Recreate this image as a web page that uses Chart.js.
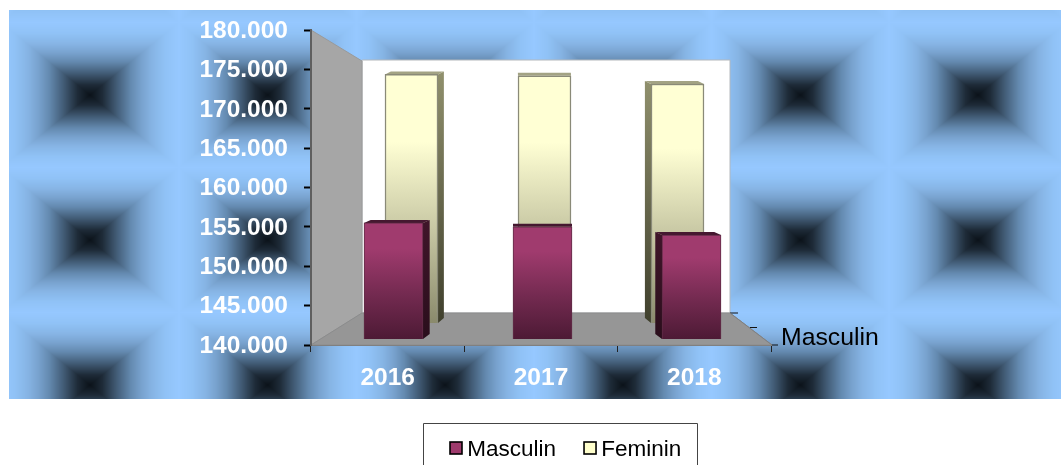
<!DOCTYPE html>
<html><head><meta charset="utf-8">
<style>html,body{margin:0;padding:0;background:#fff;overflow:hidden}canvas{display:block;filter:blur(.45px)}</style>
<script src="https://cdn.jsdelivr.net/npm/chart.js@4/dist/chart.umd.js"></script>
</head><body><canvas id="c" width="1061" height="465"></canvas>
<script>
const categories = ['2016', '2017', '2018'];
const masculin = [155300, 154800, 153700];
const feminin = [176500, 176300, 175100];
const seriesNames = ['Masculin', 'Feminin'];
const depthLabel = 'Masculin';
const yMin = 140000, yMax = 180000, yStep = 5000;

const FONT = '"Liberation Sans", Arial, sans-serif';
const bgRect = {l: 9, t: 10, r: 1061, b: 399};
const tile = {cx: 90, cy: 95, w: 177.6, h: 145};
const tileStops = [[0, [11, 18, 25]], [.14, [30, 43, 56]], [.3, [66, 92, 118]], [.46, [100, 138, 176]], [.58, [120, 162, 206]], [.7, [134, 180, 228]], [.85, [144, 194, 246]], [1, [150, 200, 255]]];
const swatchColors = ['#9E3A6C', '#FFFFCC'];

function tileColor(t) {
  for (let i = 1; i < tileStops.length; i++) if (t <= tileStops[i][0]) {
    const a = tileStops[i - 1], b = tileStops[i], f = (t - a[0]) / (b[0] - a[0]);
    return a[1].map((v, k) => v + (b[1][k] - v) * f);
  }
  return tileStops[tileStops.length - 1][1];
}
function makeBackground() {
  const W = 1061, H = 465, cv = document.createElement('canvas'); cv.width = W; cv.height = H;
  const x = cv.getContext('2d'), im = x.createImageData(W, H);
  for (let py = bgRect.t; py < bgRect.b; py++) for (let px = bgRect.l; px < bgRect.r; px++) {
    const u = (px + .5 - tile.cx) / tile.w, v = (py + .5 - tile.cy) / tile.h;
    const du = Math.abs(u - Math.round(u)) * 2, dv = Math.abs(v - Math.round(v)) * 2;
    const col = tileColor(Math.max(du, dv)), o = (py * W + px) * 4;
    im.data[o] = col[0]; im.data[o + 1] = col[1]; im.data[o + 2] = col[2]; im.data[o + 3] = 255;
  }
  x.putImageData(im, 0, 0);
  return cv;
}
const background = makeBackground();

function poly(ctx, pts, fill, stroke) {
  ctx.beginPath(); pts.forEach((p, i) => i ? ctx.lineTo(p[0], p[1]) : ctx.moveTo(p[0], p[1])); ctx.closePath();
  if (fill) { ctx.fillStyle = fill; ctx.fill(); }
  if (stroke) { ctx.strokeStyle = stroke; ctx.lineWidth = 1; ctx.stroke(); }
}
function place(s, l, r, t, b) { s.left = l; s.right = r; s.top = t; s.bottom = b; s.width = r - l; s.height = b - t; s.configure(); }

const scene = {
  id: 'scene',
  afterLayout(chart) {
    const s = chart.scales;
    place(s.x, 311, 771, 345, 400);
    place(s.y, 190, 311, 30, 345);
    place(s.xM, 319, 766, 0, 0);
    place(s.yM, 0, 0, 35.6, 339);
    place(s.xF, 345, 744, 0, 0);
    place(s.yF, 0, 0, 50.6, 323);
    const lg = chart.legend;
    lg.left = 422; lg.right = 800; lg.top = 412; lg.bottom = 465; lg.width = 378; lg.height = 53;
    lg.adjustHitBoxes();
  },
  beforeDraw(chart) {
    const c = chart.ctx;
    c.drawImage(background, 0, 0);
    poly(c, [[362, 60], [730, 60], [730, 313], [362, 313]], '#ffffff', '#b4b8bc');
    poly(c, [[311, 30], [362, 61], [362, 313], [311, 345]], '#A6A6A6', '#9a9a9a');
    poly(c, [[311, 345], [362, 313], [730, 313], [772, 345]], '#969696', '#8c8c8c');
    c.strokeStyle = '#111'; c.lineWidth = 1;
    [[730, 313, 738], [750, 327.5, 757], [771, 345, 778]].forEach(t => { c.beginPath(); c.moveTo(t[0], t[1]); c.lineTo(t[2], t[1]); c.stroke(); });
    c.beginPath(); c.moveTo(730, 313); c.lineTo(772, 345); c.strokeStyle = '#808080'; c.stroke();
    c.fillStyle = '#000'; c.font = '24.8px ' + FONT; c.textAlign = 'left'; c.textBaseline = 'middle';
    c.fillText(depthLabel, 781, 338);
  },
  beforeDatasetDraw(chart, args) {
    const c = chart.ctx, fem = args.index === 1;
    const sideTop = fem ? '#8f8f6c' : '#3f1529', sideBot = fem ? '#3f3f2c' : '#2a0e1c', topCol = fem ? '#a3a384' : '#451830';
    args.meta.data.forEach(b => {
      const dx = (542 - b.x) * 0.045, dy = 3;
      const l = b.x - b.width / 2, r = b.x + b.width / 2, t = b.y, base = b.base;
      const g = c.createLinearGradient(0, t, 0, base); g.addColorStop(0, sideTop); g.addColorStop(1, sideBot);
      if (dx > 0.5) poly(c, [[r, t], [r + dx, t - dy], [r + dx, base - dy - 2], [r, base]], g);
      if (dx < -0.5) poly(c, [[l, t], [l + dx, t - dy], [l + dx, base - dy - 2], [l, base]], g);
      poly(c, [[l, t], [r, t], [r + dx, t - dy], [l + dx, t - dy]], topCol);
    });
  },
  afterDraw(chart) {
    const c = chart.ctx;
    c.strokeStyle = '#444'; c.lineWidth = 1;
    c.beginPath(); c.moveTo(423.5, 470); c.lineTo(423.5, 423.5); c.lineTo(697.5, 423.5); c.lineTo(697.5, 470); c.stroke();
    chart.legend.legendHitBoxes.forEach((h, i) => {
      c.fillStyle = swatchColors[i]; c.fillRect(h.left + 1, 442, 12, 12);
      c.strokeStyle = '#000'; c.lineWidth = 1.6; c.strokeRect(h.left + 1, 442, 12, 12);
    });
  }
};

function barFill(top, mid, bot, midPos) {
  return ctx => {
    const el = ctx.chart.scales[ctx.dataset.yAxisID];
    const yT = el.getPixelForValue(ctx.raw), yB = el.bottom;
    const g = ctx.chart.ctx.createLinearGradient(0, yT, 0, yB);
    g.addColorStop(0, top); g.addColorStop(midPos[0], top); g.addColorStop(midPos[1], mid); g.addColorStop(1, bot);
    return g;
  };
}

new Chart(document.getElementById('c'), {
  type: 'bar',
  data: {
    labels: categories,
    datasets: [
      {label: seriesNames[0], data: masculin, xAxisID: 'xM', yAxisID: 'yM', barThickness: 59, clip: false, grouped: false, base: yMin,
       backgroundColor: barFill('#A03B6E', '#732A50', '#4D1A35', [.22, .62]), borderColor: '#5f2c46', borderWidth: 1},
      {label: seriesNames[1], data: feminin, xAxisID: 'xF', yAxisID: 'yF', barThickness: 53, clip: false, grouped: false, base: yMin,
       backgroundColor: barFill('#FFFFD4', '#C8C8A4', '#8A8A6C', [.27, .62]), borderColor: '#8a8a78', borderWidth: 1.5}
    ]
  },
  options: {
    responsive: false, animation: false,
    layout: {padding: {left: 190, top: 30, right: 290, bottom: 20}},
    plugins: {
      tooltip: {enabled: false},
      legend: {
        position: 'bottom', align: 'start',
        labels: {
          boxWidth: 7, padding: 27, color: '#000', font: {family: FONT, size: 22.5},
          generateLabels: ch => ch.data.datasets.map((d, i) => ({text: d.label, fillStyle: 'rgba(0,0,0,0)', strokeStyle: 'rgba(0,0,0,0)', lineWidth: 0, datasetIndex: i}))
        }
      }
    },
    scales: {
      x: {type: 'category', axis: 'x', position: 'bottom', offset: true, labels: categories,
          grid: {offset: true, drawOnChartArea: false, tickLength: 7, tickColor: '#222', tickWidth: 1},
          border: {color: '#808080', width: 1},
          ticks: {color: '#fff', padding: 12, maxRotation: 0, autoSkip: false, font: {family: FONT, size: 24.5, weight: 'bold'}}},
      y: {type: 'linear', axis: 'y', position: 'left', min: yMin, max: yMax,
          grid: {drawOnChartArea: false, tickLength: 7, tickColor: '#000', tickWidth: 2},
          border: {color: '#5f5f5f', width: 2},
          ticks: {stepSize: yStep, autoSkip: false, color: '#fff', padding: 16, labelOffset: 1, font: {family: FONT, size: 24.5, weight: 'bold'},
                  callback: v => String(v).replace(/(\d)(\d{3})$/, '$1.$2')}},
      xM: {type: 'category', axis: 'x', display: false, offset: true, labels: categories},
      yM: {type: 'linear', axis: 'y', display: false, min: yMin, max: yMax},
      xF: {type: 'category', axis: 'x', display: false, offset: true, labels: categories},
      yF: {type: 'linear', axis: 'y', display: false, min: yMin, max: yMax}
    }
  },
  plugins: [scene]
});
</script></body></html>
